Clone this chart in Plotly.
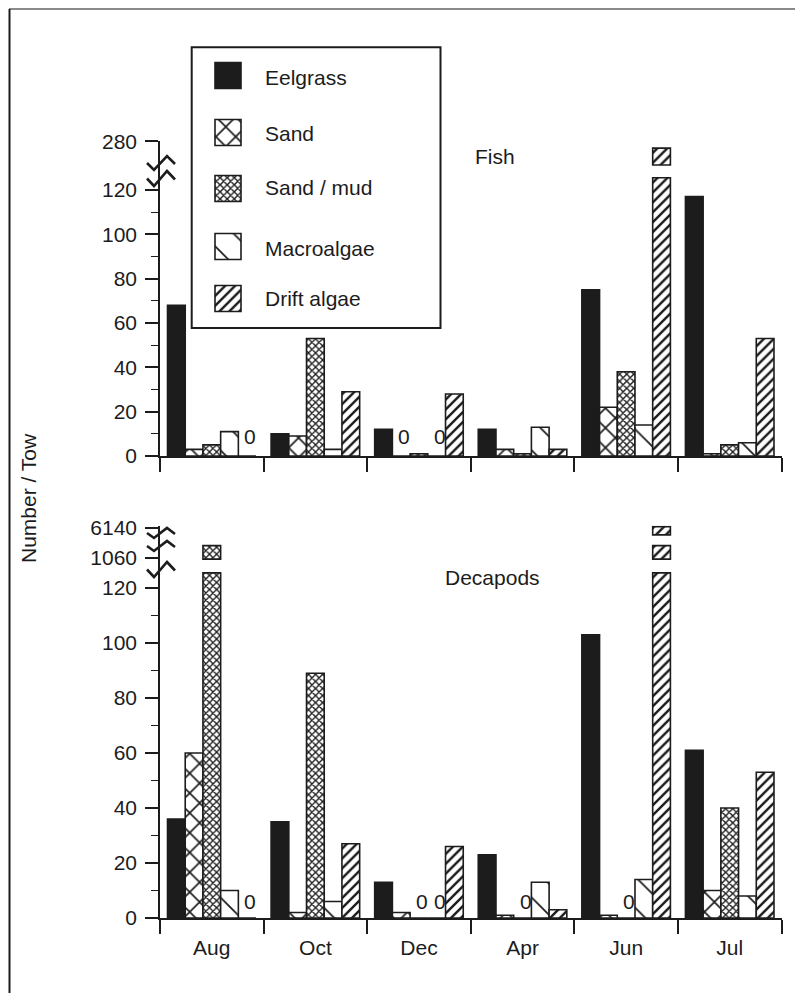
import plotly.graph_objects as go

# ---------------- data ----------------
months = ["Aug", "Oct", "Dec", "Apr", "Jun", "Jul"]
habitats = ["Eelgrass", "Sand", "Sand / mud", "Macroalgae", "Drift algae"]

fish_eelgrass = [68, 10, 12, 12, 75, 117]
fish_sand = [3, 9, 0, 3, 22, 1]
fish_sandmud = [5, 53, 1, 1, 38, 5]
fish_macroalgae = [11, 3, 0, 13, 14, 6]
fish_drift = [0, 29, 28, 3, 280, 53]

dec_eelgrass = [36, 35, 13, 23, 103, 61]
dec_sand = [60, 2, 2, 1, 1, 10]
dec_sandmud = [1060, 89, 0, 0, 0, 40]
dec_macroalgae = [10, 6, 0, 13, 14, 8]
dec_drift = [0, 27, 26, 3, 6140, 53]

y_ticks = [0, 20, 40, 60, 80, 100, 120]
y_minor = [10, 30, 50, 70, 90, 110]
fish_break_labels = ["280"]
dec_break_labels = ["1060", "6140"]

# ---------------- styling / geometry ----------------
PAD = 8                      # page body margin
W, H = 803 - 2 * PAD, 1001 - 2 * PAD
FONT = "Liberation Sans, Arial, Helvetica, sans-serif"
INK = "#1c1c1c"

CLIP = 125.5
fish_break_pos = [142.0]
fish_caps = [(131.3, 138.9)]
dec_break_pos = [130.9, 141.8]
dec_caps = [(130.5, 135.4), (139.3, 142.3)]

styles = {
    "Eelgrass": dict(color=INK, pattern=None),
    "Sand": dict(color="white", pattern=dict(shape="x", size=14, solidity=0.22)),
    "Sand / mud": dict(color="white", pattern=dict(shape="x", size=5, solidity=0.48)),
    "Macroalgae": dict(color="white", pattern=dict(shape="\\", size=22, solidity=0.08)),
    "Drift algae": dict(color="white", pattern=dict(shape="/", size=7, solidity=0.35)),
}

BW = 0.171
OFF0 = -2.5 * BW


def marker_for(h):
    st = styles[h]
    m = dict(color=st["color"], line=dict(color=INK, width=1.6))
    if st["pattern"] is not None:
        p = dict(st["pattern"])
        p.update(fgcolor=INK, bgcolor="white", fillmode="replace")
        m["pattern"] = p
    return m


fig = go.Figure()

panels = [
    ("x", "y", [fish_eelgrass, fish_sand, fish_sandmud, fish_macroalgae, fish_drift],
     [280], fish_caps, 20),
    ("x2", "y2", [dec_eelgrass, dec_sand, dec_sandmud, dec_macroalgae, dec_drift],
     [1060, 6140], dec_caps, 17),
]

annotations = []
for xa, ya, series, break_vals, caps, zshift in panels:
    for i, (h, vals) in enumerate(zip(habitats, series)):
        shown = [min(v, CLIP) if v > y_ticks[-1] else v for v in vals]
        fig.add_trace(go.Bar(
            x=months, y=shown, xaxis=xa, yaxis=ya, name=h,
            width=BW, offset=OFF0 + i * BW, marker=marker_for(h),
            showlegend=False, hoverinfo="skip"))
        for bv, (lo, hi) in zip(break_vals, caps):
            cap_y = [hi - lo if v >= bv else None for v in vals]
            if any(c is not None for c in cap_y):
                fig.add_trace(go.Bar(
                    x=months, y=cap_y, base=lo, xaxis=xa, yaxis=ya, name=h,
                    width=BW, offset=OFF0 + i * BW, marker=marker_for(h),
                    showlegend=False, hoverinfo="skip"))
        for j, v in enumerate(vals):
            if v == 0:
                annotations.append(dict(
                    x=j + OFF0 + (i + 0.5) * BW + 0.03, y=0, xref=xa, yref=ya,
                    text="0", showarrow=False, yanchor="middle", yshift=zshift,
                    font=dict(size=21, family=FONT, color=INK)))

# ---------------- custom legend (window-pixel overlay axes) ----------------
leg_y = [62.5, 119.5, 175.5, 233.5, 285.5]
leg_text_y = [77, 133, 187, 248, 298]
SW = 26
for h, yt in zip(habitats, leg_y):
    fig.add_trace(go.Bar(
        x=[215 + SW / 2], y=[SW], base=[yt], width=SW, xaxis="x3", yaxis="y3",
        marker=marker_for(h), showlegend=False, hoverinfo="skip"))
for h, ty in zip(habitats, leg_text_y):
    annotations.append(dict(x=263, y=ty, xref="x3", yref="y3", text=h, showarrow=False,
                            xanchor="left", yanchor="middle",
                            font=dict(size=21, family=FONT, color=INK)))

annotations += [
    dict(x=495, y=156, xref="x3", yref="y3", text="Fish", showarrow=False,
         font=dict(size=21, family=FONT, color=INK)),
    dict(x=492, y=577, xref="x3", yref="y3", text="Decapods", showarrow=False,
         font=dict(size=21, family=FONT, color=INK)),
    dict(x=28, y=498, xref="x3", yref="y3", text="Number / Tow", showarrow=False,
         textangle=-90, font=dict(size=21, family=FONT, color=INK)),
]

shapes = []
shapes.append(dict(type="rect", xref="x3", yref="y3", x0=191.7, x1=440.5, y0=47.3, y1=328,
                   line=dict(color=INK, width=2), layer="above"))
shapes.append(dict(type="line", xref="x3", yref="y3", x0=9, x1=795, y0=9, y1=9,
                   line=dict(color="#8a8a8a", width=2)))
shapes.append(dict(type="line", xref="x3", yref="y3", x0=9.5, x1=9.5, y0=9, y1=993,
                   line=dict(color=INK, width=2)))


def zig(peak, valley):
    mid = (peak + valley) / 2
    return (f"M147,{mid:.1f} L154,{valley:.1f} L167,{peak:.1f} L175,{mid + 1:.1f}")


for pk, vl in [(156, 170), (171, 186)]:
    shapes.append(dict(type="path", xref="x3", yref="y3", path=zig(pk, vl),
                       line=dict(color=INK, width=2.6), layer="above"))
for pk, vl in [(528, 538), (541, 551), (562, 577)]:
    shapes.append(dict(type="path", xref="x3", yref="y3", path=zig(pk, vl),
                       line=dict(color=INK, width=2.6), layer="above"))


def px(p):
    return (p - PAD) / W


def py(p):
    return 1 - (p - PAD) / H


xdom = [px(160), px(781.5)]
axis_common = dict(showgrid=False, zeroline=False, showline=True, linecolor=INK,
                   linewidth=1.6, ticks="outside", tickcolor=INK, tickwidth=1.5,
                   automargin=False)
tickfont = dict(size=21, family=FONT, color=INK)

fig.update_layout(
    width=W, height=H, autosize=False,
    margin=dict(l=0, r=0, t=0, b=0),
    paper_bgcolor="white", plot_bgcolor="rgba(0,0,0,0)",
    barmode="overlay", showlegend=False,
    annotations=annotations, shapes=shapes,
    xaxis=dict(domain=xdom, anchor="y", type="category", categoryorder="array",
               categoryarray=months, range=[-0.5, 5.5], tickson="boundaries",
               ticklen=14, showticklabels=False, **axis_common),
    yaxis=dict(domain=[py(456), py(140.8)], anchor="x", range=[0, 142.2],
               tickmode="array", tickvals=y_ticks + fish_break_pos,
               ticktext=[str(t) for t in y_ticks] + fish_break_labels,
               ticklen=13, tickfont=tickfont, ticklabelstandoff=4,
               minor=dict(tickmode="array", tickvals=y_minor,
                          ticklen=7, ticks="outside", tickcolor=INK, tickwidth=1.2),
               **axis_common),
    xaxis2=dict(domain=xdom, anchor="y2", type="category", categoryorder="array",
                categoryarray=months, range=[-0.5, 5.5], tickson="boundaries",
                ticklen=14, tickfont=tickfont, ticklabelstandoff=10, **axis_common),
    yaxis2=dict(domain=[py(918), py(525.85)], anchor="x2", range=[0, 142.6],
                tickmode="array", tickvals=y_ticks + dec_break_pos,
                ticktext=[str(t) for t in y_ticks] + dec_break_labels,
                ticklen=13, tickfont=tickfont, ticklabelstandoff=4,
                minor=dict(tickmode="array", tickvals=y_minor,
                           ticklen=7, ticks="outside", tickcolor=INK, tickwidth=1.2),
                **axis_common),
    xaxis3=dict(domain=[0, 1], anchor="y3", range=[PAD, PAD + W], visible=False,
                fixedrange=True),
    yaxis3=dict(domain=[0, 1], anchor="x3", range=[PAD + H, PAD], visible=False,
                fixedrange=True),
)

fig.write_html("out.html")
